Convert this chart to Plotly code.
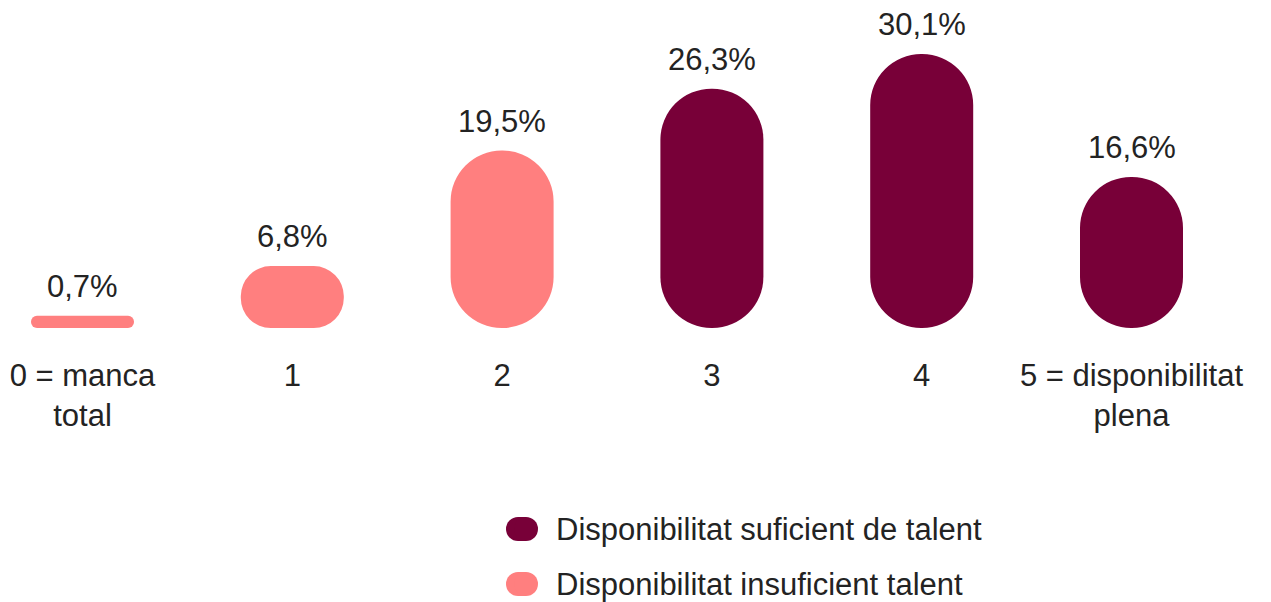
import plotly.graph_objects as go

# ---- data ----
categories = ["0 = manca<br>total", "1", "2", "3", "4", "5 = disponibilitat<br>plena"]
values = [0.7, 6.8, 19.5, 26.3, 30.1, 16.6]
value_labels = ["0,7%", "6,8%", "19,5%", "26,3%", "30,1%", "16,6%"]
groups = ["insuf", "insuf", "insuf", "suf", "suf", "suf"]
legend_order = ["suf", "insuf"]
legend_names = {"suf": "Disponibilitat suficient de talent",
                "insuf": "Disponibilitat insuficient talent"}

# ---- style ----
colors = {"suf": "#780038", "insuf": "#FF7F7F"}
TEXT_COLOR = "#232323"
FONT = "Liberation Sans, Arial, sans-serif"
FS = 31
W, H = 1271, 602
PLOT_BOTTOM = 320          # px from figure top where bars sit
PX_PER_UNIT_Y = 9.1
Y_MAX = PLOT_BOTTOM / PX_PER_UNIT_Y
CAT_SPACING_PX = 209.8
FIRST_CAT_PX = 74.5
BAR_WIDTH = 103 / CAT_SPACING_PX
X_RANGE = [-FIRST_CAT_PX / CAT_SPACING_PX, (W - FIRST_CAT_PX) / CAT_SPACING_PX]
MIN_VISIBLE = 1.35         # minimum drawn height (data units) for tiny bars

px_per_x = CAT_SPACING_PX
px_per_y = PX_PER_UNIT_Y

fig = go.Figure()
for cat, v, lab, g in zip(categories, values, value_labels, groups):
    h = max(v, MIN_VISIBLE)
    r = min(BAR_WIDTH * px_per_x, h * px_per_y) / 2.0
    # a floating bar (explicit base) gets both ends rounded -> pill shape
    fig.add_trace(go.Bar(
        x=[cat], y=[h], base=[0], width=BAR_WIDTH,
        marker=dict(color=colors[g], line=dict(width=0), cornerradius=r),
        showlegend=False, hoverinfo="skip",
    ))
    fig.add_annotation(x=cat, y=h, text=lab, showarrow=False,
                       yanchor="bottom", yshift=10,
                       font=dict(family=FONT, size=FS, color=TEXT_COLOR))

# ---- custom legend (pill symbols + text) ----
leg_x_px = 514
leg_text_px = 546
leg_y_px = [521, 576]
for g, ypx in zip(legend_order, leg_y_px):
    yp = (PLOT_BOTTOM - ypx) / PLOT_BOTTOM
    xp = leg_x_px / W
    common = dict(xref="paper", yref="paper", xsizemode="pixel", ysizemode="pixel",
                  xanchor=xp, yanchor=yp, fillcolor=colors[g], line=dict(width=0),
                  layer="above")
    fig.add_shape(type="circle", x0=-16, x1=8, y0=-12, y1=12, **common)
    fig.add_shape(type="circle", x0=-8, x1=16, y0=-12, y1=12, **common)
    fig.add_shape(type="rect", x0=-4, x1=4, y0=-12, y1=12, **common)
    fig.add_annotation(x=leg_text_px / W, y=yp, xref="paper", yref="paper",
                       text=legend_names[g], showarrow=False,
                       xanchor="left", yanchor="middle",
                       font=dict(family=FONT, size=FS, color=TEXT_COLOR))

fig.update_layout(
    width=W, height=H,
    margin=dict(l=0, r=0, t=0, b=H - PLOT_BOTTOM, pad=0, autoexpand=False),
    barmode="overlay",
    plot_bgcolor="white", paper_bgcolor="white",
    showlegend=False,
    font=dict(family=FONT, size=FS, color=TEXT_COLOR),
    xaxis=dict(type="category", categoryorder="array", categoryarray=categories,
               range=X_RANGE, showgrid=False, zeroline=False, showline=False,
               automargin=False, ticks="", ticklabelstandoff=26,
               tickfont=dict(family=FONT, size=FS, color=TEXT_COLOR)),
    yaxis=dict(range=[0, Y_MAX], visible=False, showgrid=False, zeroline=False,
               automargin=False),
)

fig.write_html("out.html")
